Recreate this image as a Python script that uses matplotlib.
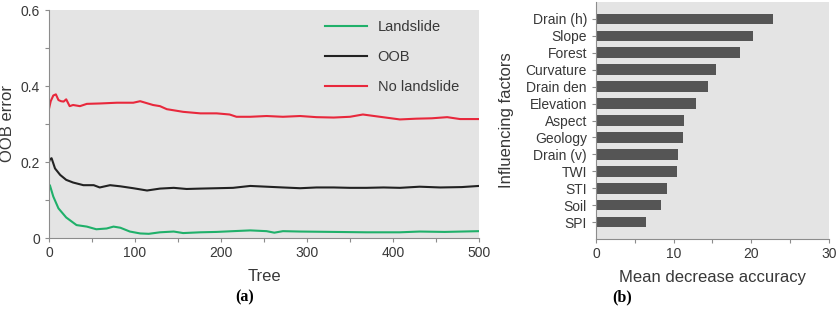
import matplotlib.pyplot as plt

plt.rcParams['font.family'] = ['Liberation Sans', 'DejaVu Sans']

# (a) OOB error vs number of trees
tree_red = [0, 2, 5, 8, 11, 14, 17, 20, 24, 28, 36, 44, 59, 79, 98, 106, 121, 129, 137, 156,
            176, 195, 210, 218, 234, 253, 272, 292, 311, 331, 350, 365, 388, 408, 427, 445,
            463, 478, 500]
no_landslide = [0.34, 0.36, 0.375, 0.378, 0.363, 0.36, 0.359, 0.365, 0.347, 0.35, 0.347, 0.353,
                0.354, 0.356, 0.356, 0.36, 0.35, 0.347, 0.339, 0.332, 0.328, 0.328, 0.325,
                0.319, 0.319, 0.321, 0.319, 0.321, 0.318, 0.317, 0.319, 0.325, 0.318, 0.312,
                0.314, 0.315, 0.318, 0.313, 0.313]

tree_black = [0, 1, 3, 7, 13, 20, 28, 40, 52, 59, 71, 83, 98, 114, 129, 145, 160, 176, 195, 214,
              234, 253, 272, 292, 311, 331, 350, 369, 389, 408, 431, 455, 480, 500]
oob = [0.2, 0.207, 0.21, 0.183, 0.166, 0.153, 0.146, 0.139, 0.139, 0.133, 0.139, 0.136, 0.131,
       0.125, 0.13, 0.132, 0.129, 0.13, 0.131, 0.132, 0.137, 0.135, 0.133, 0.131, 0.133, 0.133,
       0.132, 0.132, 0.133, 0.132, 0.135, 0.133, 0.134, 0.137]

tree_green = [0, 1, 5, 11, 20, 32, 44, 55, 67, 75, 83, 94, 106, 116, 129, 145, 156, 176, 195,
              214, 234, 253, 262, 272, 292, 331, 369, 408, 431, 460, 500]
landslide = [0.13, 0.139, 0.109, 0.078, 0.054, 0.034, 0.03, 0.023, 0.025, 0.03, 0.027, 0.017,
             0.012, 0.011, 0.015, 0.017, 0.013, 0.015, 0.016, 0.018, 0.02, 0.018, 0.014, 0.018,
             0.017, 0.016, 0.015, 0.015, 0.017, 0.016, 0.018]

# (b) variable importance
factors = ['Drain (h)', 'Slope', 'Forest', 'Curvature', 'Drain den', 'Elevation', 'Aspect',
           'Geology', 'Drain (v)', 'TWI', 'STI', 'Soil', 'SPI']
importance = [22.8, 20.2, 18.5, 15.5, 14.4, 12.9, 11.3, 11.2, 10.6, 10.4, 9.1, 8.4, 6.5]

bg = '#e4e4e4'
spine_c = '#8c8c8c'
txt_c = '#383838'

fig = plt.figure(figsize=(8.37, 3.12), dpi=100)

# ---- panel (a)
ax = fig.add_axes([49/837, 74/312, 430/837, 228/312])
ax.set_facecolor(bg)
ax.plot(tree_green, landslide, color='#20b06a', lw=1.5, label='Landslide')
ax.plot(tree_black, oob, color='#222222', lw=1.5, label='OOB')
ax.plot(tree_red, no_landslide, color='#e8283c', lw=1.5, label='No landslide')
ax.set_xlim(0, 500)
ax.set_ylim(0, 0.6)
ax.set_xticks([0, 100, 200, 300, 400, 500])
ax.set_xticks(range(0, 501, 50), minor=True)
ax.set_yticks([0, 0.2, 0.4, 0.6])
ax.set_yticklabels(['0', '0.2', '0.4', '0.6'])
ax.set_yticks([0.1, 0.3, 0.5], minor=True)
ax.set_xlabel('Tree', fontsize=12, color=txt_c, labelpad=6)
leg = ax.legend(loc='upper left', bbox_to_anchor=(0.642, 0.956), frameon=False, fontsize=10.5,
                handlelength=2.9, handletextpad=0.7, labelspacing=1.1, borderpad=0,
                borderaxespad=0)
for t in leg.get_texts():
    t.set_color(txt_c)
fig.text(8/837, 1 - 124/312, 'OOB error', rotation=90, ha='center', va='center',
         fontsize=12, color=txt_c)

# ---- panel (b)
ax2 = fig.add_axes([596/837, 73/312, 233/837, 237/312])
ax2.set_facecolor(bg)
pos = list(range(len(factors)))
ax2.barh(pos, importance, height=0.63, color='#555555')
ax2.set_yticks(pos)
ax2.set_yticklabels(factors)
ax2.set_ylim(13.0, -1.0)
ax2.set_xlim(0, 30)
ax2.set_xticks([0, 10, 20, 30])
ax2.set_xticks([5, 15, 25], minor=True)
ax2.set_xlabel('Mean decrease accuracy', fontsize=12, color=txt_c, labelpad=6)
ax2.set_ylabel('Influencing factors', fontsize=12, color=txt_c, labelpad=8)

for a in (ax, ax2):
    for s in ('top', 'right'):
        a.spines[s].set_visible(False)
    for s in ('left', 'bottom'):
        a.spines[s].set_color(spine_c)
        a.spines[s].set_linewidth(0.8)
    a.tick_params(which='both', direction='out', length=3, width=0.8, color=spine_c,
                  labelsize=10, labelcolor=txt_c)
    a.tick_params(axis='x', which='both', pad=3)

fig.text(245/837, 1 - 297/312, '(a)', ha='center', va='center', fontsize=11.5,
         fontweight='bold', family='Liberation Serif')
fig.text(622/837, 1 - 297/312, '(b)', ha='center', va='center', fontsize=11.5,
         fontweight='bold', family='Liberation Serif')

fig.savefig('out.png', dpi=100)
